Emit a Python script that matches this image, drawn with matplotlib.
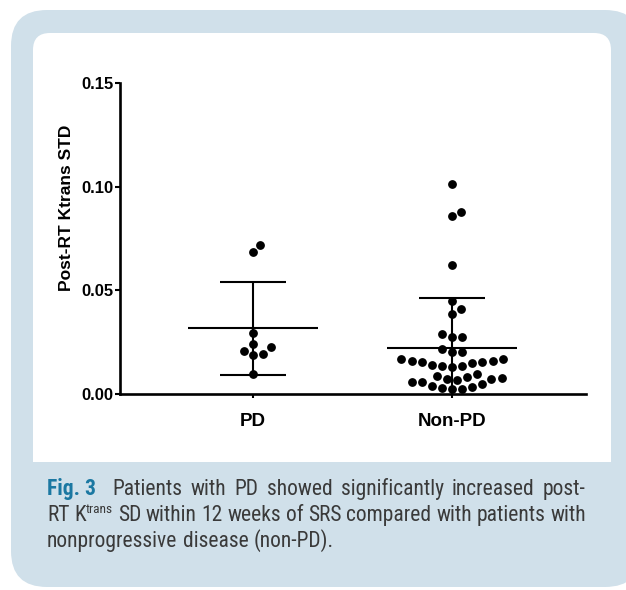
import numpy as np
import matplotlib.pyplot as plt
from matplotlib import font_manager
from matplotlib.patches import FancyBboxPatch, Rectangle
from matplotlib.transforms import Affine2D

W, H, DPI = 626, 590, 100

# data
groups = ["PD", "Non-PD"]
pd_vals = [0.0720, 0.0685, 0.0296, 0.0240, 0.0226, 0.0209, 0.0192, 0.0187, 0.0097]
nonpd_vals = [0.1014, 0.0879, 0.0858, 0.0620,
              0.0449, 0.0409, 0.0386,
              0.0290, 0.0277, 0.0277,
              0.0204, 0.0204, 0.0216,
              0.0168, 0.0159, 0.0156, 0.0148, 0.0137, 0.0129, 0.0135, 0.0140, 0.0156, 0.0159, 0.0168,
              0.0095, 0.0088, 0.0076, 0.0072, 0.0081,
              0.0068, 0.0059, 0.0039, 0.0028, 0.0024, 0.0024, 0.0035, 0.0048, 0.0059, 0.0071]
y_ticks = [0.00, 0.05, 0.10, 0.15]
y_label = "Post-RT Ktrans STD"
cap_lines = ["Patients with PD showed significantly increased post-",
             "SD within 12 weeks of SRS compared with patients with",
             "nonprogressive disease (non-PD)."]

BLUE = "#d0e0ea"
TEAL = "#1b78a2"
GREY = "#3a3a3a"

# pick a narrow face for the caption if there is one
cap_font, cap_stretch = "Liberation Sans", "normal"
fonts = font_manager.fontManager.ttflist
for f in fonts:
    if f.name in ("Liberation Sans Narrow", "Roboto Condensed", "Open Sans Condensed"):
        cap_font, cap_stretch = f.name, "normal"
        break
else:
    for f in fonts:
        if f.name in ("Roboto", "Open Sans", "Noto Sans", "DejaVu Sans") and f.stretch == "condensed":
            cap_font, cap_stretch = f.name, "condensed"
            break
ax_font = "Liberation Sans"

fig = plt.figure(figsize=(W / DPI, H / DPI), dpi=DPI)
# pixel coords, origin top-left
px = Affine2D().scale(1 / DPI, -1 / DPI).translate(0, H / DPI) + fig.dpi_scale_trans

# background panels
fig.add_artist(FancyBboxPatch((11, 10), 630, 577, boxstyle="round,pad=0,rounding_size=36",
                              transform=px, fc=BLUE, ec="none", zorder=-10))
fig.add_artist(FancyBboxPatch((33, 33), 578, 429, boxstyle="round,pad=0,rounding_size=17",
                              transform=px, fc="white", ec="none", zorder=-9))
fig.add_artist(Rectangle((33, 300), 578, 162, transform=px, fc="white", ec="none", zorder=-9))

# axes
x0, x1, yb, yt = 120, 586, 394, 83
ax = fig.add_axes([x0 / W, 1 - yb / H, (x1 - x0) / W, (yb - yt) / H])
ax.patch.set_alpha(0)
ax.set_xlim(-0.668, 1.673)
ax.set_ylim(0, 0.15)

xpx = (x1 - x0) / (1.673 + 0.668)
ypx = (yb - yt) / 0.15


def swarm(vals, d=10.3):
    # simple beeswarm: put each point as close to centre as it can go
    ys = np.asarray(vals) * ypx
    offs = np.zeros(len(ys))
    placed = []
    for i in np.argsort(ys):
        y = ys[i]
        cands = [0.0]
        for xo, yo in placed:
            dy = y - yo
            if abs(dy) < d:
                dx = np.sqrt(d * d - dy * dy)
                cands += [xo + dx, xo - dx]
        cands.sort(key=abs)
        for c in cands:
            if all((c - xo) ** 2 + (y - yo) ** 2 >= d * d - 1e-6 for xo, yo in placed):
                offs[i] = c
                break
        placed.append((offs[i], y))
    return offs / xpx


for i, vals in enumerate([pd_vals, nonpd_vals]):
    vals = np.array(vals)
    m = vals.mean()
    s = vals.std(ddof=1)
    ax.hlines(m, i - 0.325, i + 0.325, color="black", lw=1.5, zorder=2)
    ax.vlines(i, max(m - s, 0), m + s, color="black", lw=1.5, zorder=2)
    ax.hlines([m - s, m + s], i - 0.167, i + 0.167, color="black", lw=1.5, zorder=2)
    ax.plot(i + swarm(vals), vals, "o", color="black", ms=5.3, zorder=3, clip_on=False)

for side in ["top", "right"]:
    ax.spines[side].set_visible(False)
for side in ["left", "bottom"]:
    ax.spines[side].set_linewidth(1.9)

ax.set_yticks(y_ticks)
ax.set_yticklabels(["%.2f" % t for t in y_ticks], fontfamily=ax_font, fontweight="bold", fontsize=12)
ax.set_xticks([0, 1])
ax.set_xticklabels(groups, fontfamily=ax_font, fontweight="bold", fontsize=13.5)
ax.tick_params(axis="y", length=3.6, width=1.5, pad=1)
ax.tick_params(axis="x", length=3, width=1.5, pad=11)
ax.text(-0.114, 0.6, y_label, transform=ax.transAxes, rotation=90, ha="center", va="center",
        fontfamily=ax_font, fontweight="bold", fontsize=12.5)

# caption, justified by hand
renderer = fig.canvas.get_renderer()
left, right = 47, 586

# size the caption so the longest line nearly fills the width
probe = fig.text(0, 0, "RT K" + cap_lines[1], transform=px, fontfamily=cap_font,
                 fontstretch=cap_stretch, fontsize=10)
nat = probe.get_window_extent(renderer).width
probe.remove()
cap_size = min(15.5, 10 * (right - left) * 0.965 / nat)


def make_token(pieces):
    arts = []
    for txt, kw in pieces:
        t = fig.text(0, 0, txt, transform=px, va="baseline", ha="left", fontfamily=cap_font,
                     fontstretch=cap_stretch, **kw)
        arts.append(t)
    return arts


def place_line(tokens, base, justify, extra_after_first=0):
    widths = []
    for tok in tokens:
        w = sum(a.get_window_extent(renderer).width for a, _ in tok)
        widths.append(w)
    space = renderer.points_to_pixels(cap_size) * 0.24
    if justify:
        gap = (right - left - sum(widths) - extra_after_first) / (len(tokens) - 1)
    else:
        gap = space
    x = left
    for k, tok in enumerate(tokens):
        xx = x
        for a, dy in tok:
            a.set_position((xx, base - dy))
            xx += a.get_window_extent(renderer).width
        x += widths[k] + gap
        if k == 0:
            x += extra_after_first


def words(text):
    out = []
    for w in text.split():
        out.append([(a, 0) for a in make_token([(w, dict(fontsize=cap_size, color=GREY))])])
    return out


fig_tok = [(a, 0) for a in make_token([("Fig. 3", dict(fontsize=cap_size, color=TEAL, fontweight="bold"))])]
line1 = [fig_tok] + words(cap_lines[0])
place_line(line1, 495, True, extra_after_first=8)

k_arts = make_token([("K", dict(fontsize=cap_size, color=GREY)),
                     ("trans", dict(fontsize=cap_size * 0.62, color=GREY))])
k_tok = [(k_arts[0], 0), (k_arts[1], cap_size * 0.5)]
line2 = words("RT") + [k_tok] + words(cap_lines[1])
place_line(line2, 521, True)

line3 = words(cap_lines[2])
place_line(line3, 547, False)

fig.savefig("out.png", dpi=DPI)
